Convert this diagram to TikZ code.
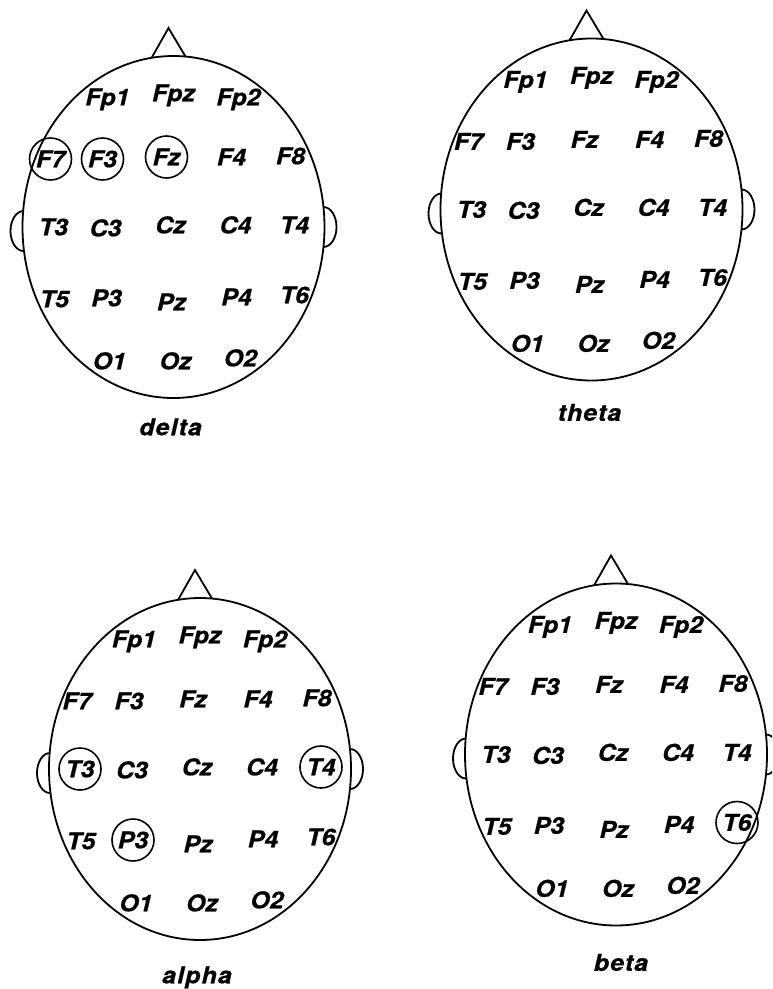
\documentclass[tikz,border=0pt]{standalone}
\usepackage{fontspec}
\setsansfont{TeX Gyre Heros}[FakeStretch=1.08, BoldItalicFeatures={FakeBold=0.8}]
\usetikzlibrary{positioning}
\tikzset{
  head/.style={line width=1.8pt},
  elec/.style={font=\sffamily\bfseries\itshape\fontsize{23}{23}\selectfont, inner sep=0pt, text height=16.5pt, text depth=0pt},
  band/.style={elec, font=\sffamily\bfseries\itshape\fontsize{23}{23}\selectfont\addfontfeature{LetterSpace=5}},
  marked/.style={line width=1.6pt}
}

\begin{document}
\begin{tikzpicture}[x=1pt, y=-1pt]
        \useasboundingbox (0,0) rectangle (772,989);
        \clip (0,0) rectangle (772,989);
        %le quattro teste
        \foreach \h/\cx/\cy/\lx/\ly in {delta/173.5/227/-3/200, theta/591.5/209.5/-2/203, alpha/200/769/-3/206, beta/616/754.5/5/208}{
            \begin{scope}[shift={(\cx,\cy)}]
                %contorno, naso e orecchie
                \draw[head] (0,0) ellipse[x radius=151, y radius=171];
                \draw[head] (-22,-169) -- (-5,-199) -- (12,-170.5);
                \draw[head] (-150,24) arc[start angle=90, end angle=270, x radius=13, y radius=20];
                \draw[head] (150,20) arc[start angle=90, end angle=-90, x radius=13, y radius=20];
                %elettrodi
                \foreach \e/\x/\y in {Fp1/-66/-130, Fpz/0/-134, Fp2/65/-130,
                    F7/-123/-68, F3/-71/-68, Fz/-7/-70, F4/58/-70, F8/117/-71,
                    T3/-120/0, C3/-68/1, Cz/-3/-2, C4/62/-2, T4/121/-2,
                    T5/-119/72, P3/-67/71, Pz/-2/75, P4/63/70, T6/121/68,
                    O1/-64/134, Oz/2/134, O2/67/131}
                    \node[elec] (\h-\e) at (\x,\y) {\e};
                %banda
                \node[band] (\h-band) at (\lx,\ly) {\h};
            \end{scope}
        }
        %elettrodi cerchiati
        \foreach \h/\e in {delta/F7, delta/F3, delta/Fz, alpha/T3, alpha/T4, alpha/P3, beta/T6}
            \draw[marked] (\h-\e) circle[radius=21];
    \end{tikzpicture}
\end{document}
